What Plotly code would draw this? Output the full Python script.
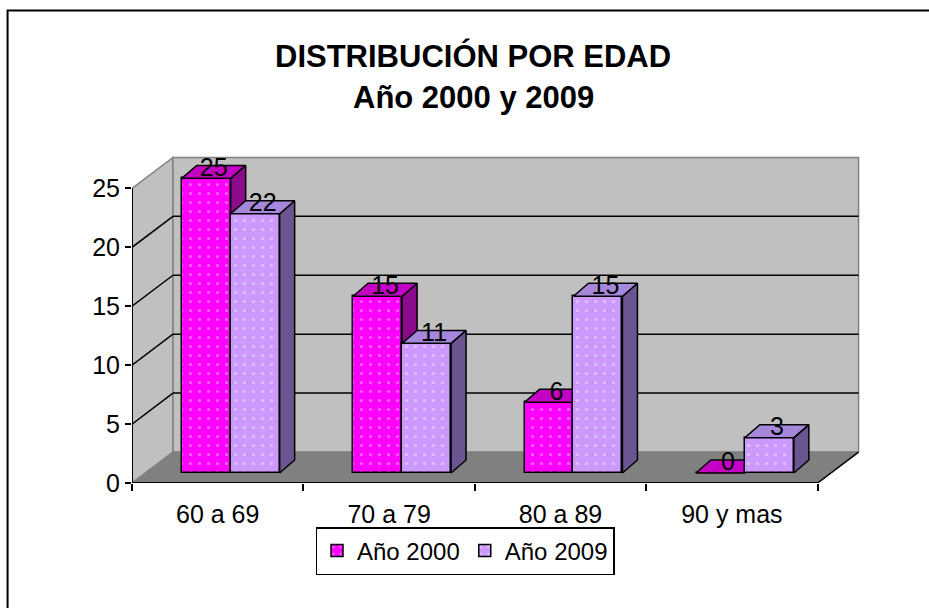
import plotly.graph_objects as go

# ---------------- data ----------------
categories = ["60 a 69", "70 a 79", "80 a 89", "90 y mas"]
series_names = ["Año 2000", "Año 2009"]
values_2000 = [25, 15, 6, 0]
values_2009 = [22, 11, 15, 3]
y_tick_values = [0, 5, 10, 15, 20, 25]

# ---------------- geometry / style ----------------
FIG_W, FIG_H = 929, 608
PX_PER_X = 171.5          # pixels per category unit
PX_PER_Y = 11.8           # pixels per value unit
X0_PX, Y0_PX = 132, 483.5 # pixel of the front origin
X_RANGE = [0, 4.3]
Y_RANGE = [0, 28]
N = len(categories)
YMAX = 25

# depth offsets (data units)
WALL_DX, WALL_DY = 41 / PX_PER_X, 31 / PX_PER_Y
BAR_FX, BAR_FY = 13 / PX_PER_X, 10 / PX_PER_Y      # bar front plane
BAR_DDX, BAR_DDY = 15 / PX_PER_X, 13 / PX_PER_Y    # bar depth
BAR_W = 49 / PX_PER_X

L = X0_PX
PW = (X_RANGE[1] - X_RANGE[0]) * PX_PER_X
R = FIG_W - L - PW
B = FIG_H - Y0_PX
PH = (Y_RANGE[1] - Y_RANGE[0]) * PX_PER_Y
T = FIG_H - B - PH

def px_x(p):
    return (p - L) / PW

def px_y(p):
    return (Y0_PX - p) / PH

FONT = "Liberation Sans, Arial, sans-serif"
TXT = 25
C2000 = dict(front="#FF00FF", top="#C400C4", side="#8C0A8C")
C2009 = dict(front="#CC99FF", top="#A588DB", side="#6A5590")

fig = go.Figure()

def add_series(vals, shift, colors, name, xa, ya):
    centers = [k + 0.5 + BAR_FX + shift for k in range(N)]
    fig.add_trace(go.Bar(
        x=centers, y=vals, base=[BAR_FY] * N, width=BAR_W, name=name,
        xaxis=xa, yaxis=ya,
        marker=dict(color=colors["front"], line=dict(color="black", width=1.5),
                    pattern=dict(shape=".", fgcolor="white", fgopacity=0.4,
                                 size=9, solidity=0.1)),
        hoverinfo="skip"))
    tx, ty, sx, sy = [], [], [], []
    for c, v in zip(centers, vals):
        x0, x1 = c - BAR_W / 2, c + BAR_W / 2
        y0, y1 = BAR_FY, BAR_FY + v
        tx += [x0, x1, x1 + BAR_DDX, x0 + BAR_DDX, x0, None]
        ty += [y1, y1, y1 + BAR_DDY, y1 + BAR_DDY, y1, None]
        if v > 0:
            sx += [x1, x1, x1 + BAR_DDX, x1 + BAR_DDX, x1, None]
            sy += [y0, y1, y1 + BAR_DDY, y0 + BAR_DDY, y0, None]
    for fx, fy, col in ((sx, sy, colors["side"]), (tx, ty, colors["top"])):
        fig.add_trace(go.Scatter(
            x=fx, y=fy, mode="lines", fill="toself", fillcolor=col,
            line=dict(color="black", width=1.5), xaxis=xa, yaxis=ya,
            showlegend=False, hoverinfo="skip"))
    return centers

c2000 = add_series(values_2000, -BAR_W / 2, C2000, series_names[0], "x", "y")
c2009 = add_series(values_2009, BAR_W / 2, C2009, series_names[1], "x2", "y2")

# data labels (top layer)
lx = [c + BAR_DDX / 2 for c in c2000 + c2009]
ly = [BAR_FY + v + BAR_DDY / 2 + 0.2 for v in values_2000 + values_2009]
fig.add_trace(go.Scatter(
    x=lx, y=ly, mode="text", text=[str(v) for v in values_2000 + values_2009],
    textposition="middle center", textfont=dict(family=FONT, size=TXT, color="black"),
    xaxis="x2", yaxis="y2", showlegend=False, hoverinfo="skip"))

# ---------------- walls, floor, grid ----------------
def path(pts):
    return "M " + " L ".join(f"{x},{y}" for x, y in pts) + " Z"

shapes = []
DX, DY = WALL_DX, WALL_DY
shapes.append(dict(type="path", xref="x", yref="y", layer="below",
                   path=path([(0, 0), (0, YMAX), (DX, YMAX + DY), (DX, DY)]),
                   fillcolor="#C0C0C0", line=dict(color="#808080", width=1.5)))
shapes.append(dict(type="path", xref="x", yref="y", layer="below",
                   path=path([(DX, DY), (DX, YMAX + DY), (N + DX, YMAX + DY), (N + DX, DY)]),
                   fillcolor="#C0C0C0", line=dict(color="#808080", width=1.5)))
shapes.append(dict(type="path", xref="x", yref="y", layer="below",
                   path=path([(0, 0), (N, 0), (N + DX, DY), (DX, DY)]),
                   fillcolor="#808080", line=dict(color="#808080", width=1)))
for v in y_tick_values[1:-1]:
    shapes.append(dict(type="line", xref="x", yref="y", layer="below",
                       x0=DX, y0=v + DY, x1=N + DX, y1=v + DY,
                       line=dict(color="black", width=1.5)))
    shapes.append(dict(type="line", xref="x", yref="y", layer="below",
                       x0=0, y0=v, x1=DX, y1=v + DY,
                       line=dict(color="black", width=1.5)))
# front axis lines
shapes.append(dict(type="line", xref="x", yref="y", layer="below",
                   x0=0, y0=0, x1=0, y1=YMAX, line=dict(color="black", width=2)))
shapes.append(dict(type="line", xref="x", yref="y", layer="below",
                   x0=0, y0=0, x1=N, y1=0, line=dict(color="black", width=2)))
shapes.append(dict(type="line", xref="x", yref="y", layer="below",
                   x0=N, y0=0, x1=N + DX, y1=DY, line=dict(color="black", width=1.5)))
# outer frame
shapes.append(dict(type="rect", xref="paper", yref="paper",
                   x0=px_x(7.5), y0=px_y(10.5), x1=px_x(940), y1=px_y(620),
                   line=dict(color="black", width=2), fillcolor="rgba(0,0,0,0)"))

annotations = [
    dict(text="<b>DISTRIBUCIÓN POR EDAD</b>", xref="paper", yref="paper",
         x=px_x(473), y=px_y(56), xanchor="center", yanchor="middle", showarrow=False,
         font=dict(family=FONT, size=31, color="black")),
    dict(text="<b>Año 2000 y 2009</b>", xref="paper", yref="paper",
         x=px_x(474), y=px_y(98), xanchor="center", yanchor="middle", showarrow=False,
         font=dict(family=FONT, size=31, color="black")),
]

axis_common = dict(range=X_RANGE, showgrid=False, zeroline=False, showline=False,
                   automargin=False, fixedrange=True)
fig.update_layout(
    width=FIG_W, height=FIG_H,
    margin=dict(l=L, r=R, t=T, b=B, autoexpand=False),
    paper_bgcolor="white", plot_bgcolor="rgba(0,0,0,0)",
    barmode="overlay", bargap=0,
    font=dict(family=FONT, color="black"),
    xaxis=dict(**axis_common, tickmode="array",
               tickvals=[k + 0.5 for k in range(N)], ticktext=categories,
               ticks="", tickfont=dict(family=FONT, size=TXT, color="black"),
               ticklabelstandoff=14),
    xaxis2=dict(**axis_common, overlaying="x", anchor="y2", tickmode="array",
                tickvals=list(range(N + 1)), ticks="outside", ticklen=7,
                tickwidth=1.5, tickcolor="black", showticklabels=False),
    yaxis=dict(range=Y_RANGE, showgrid=False, zeroline=False, showline=False,
               automargin=False, fixedrange=True, tickmode="array",
               tickvals=y_tick_values, ticks="outside", ticklen=6, tickwidth=1.5,
               tickcolor="black", tickfont=dict(family=FONT, size=TXT, color="black")),
    yaxis2=dict(range=Y_RANGE, overlaying="y", anchor="x2", showgrid=False,
                zeroline=False, showline=False, showticklabels=False,
                automargin=False, fixedrange=True),
    legend=dict(orientation="h", xref="container", yref="container",
                x=465 / FIG_W, y=1 - 551 / FIG_H, xanchor="center", yanchor="middle",
                bordercolor="black", borderwidth=1.5, bgcolor="white",
                font=dict(family=FONT, size=24, color="black"), itemwidth=30),
    shapes=shapes, annotations=annotations,
    showlegend=True,
)

fig.write_html("out.html", config={"displayModeBar": False},
               post_script="document.body.style.margin='0';document.body.style.overflow='hidden';")
